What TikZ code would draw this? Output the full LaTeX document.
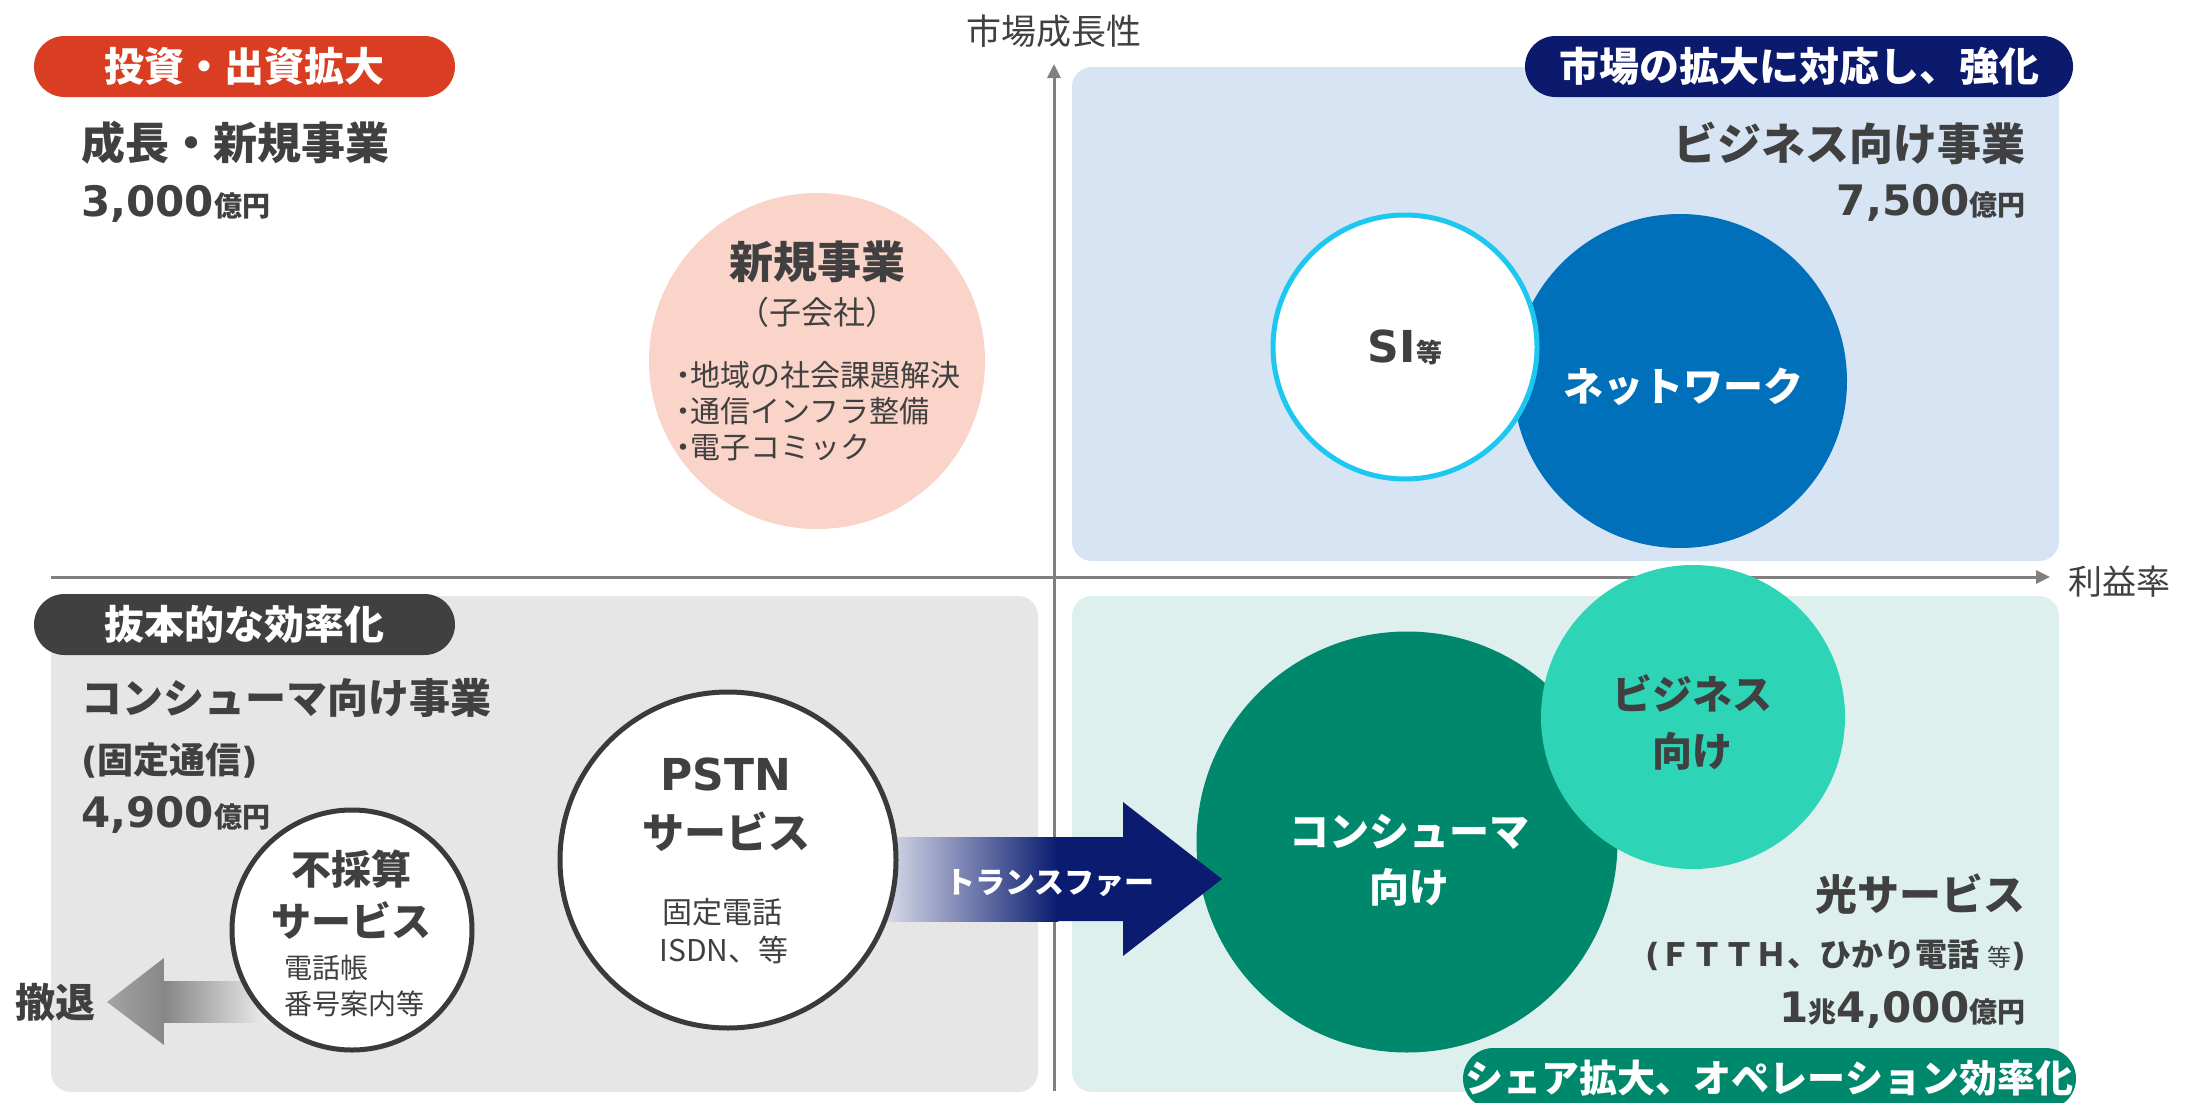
\documentclass[tikz,border=0pt]{standalone}
\usepackage{fontspec}
\setmainfont{Noto Sans CJK JP}
\newfontfamily\latfont{DejaVu Sans}
\usetikzlibrary{arrows.meta}
\definecolor{tg}{HTML}{404040}
\definecolor{axisgray}{HTML}{808080}
\definecolor{boxblue}{HTML}{D6E4F4}
\definecolor{boxgray}{HTML}{E6E6E6}
\definecolor{boxteal}{HTML}{DDF0EE}
\definecolor{pillred}{HTML}{D93D22}
\definecolor{pillnavy}{HTML}{0B1A6C}
\definecolor{pilldark}{HTML}{404040}
\definecolor{green1}{HTML}{00886C}
\definecolor{teal1}{HTML}{2DD4B6}
\definecolor{netblue}{HTML}{0070BA}
\definecolor{sicyan}{HTML}{1CC8F0}
\definecolor{pink1}{HTML}{FAD4C9}
\definecolor{ringgray}{HTML}{3A3A3A}
\definecolor{arrnavy}{HTML}{0A1B70}
\newcommand\setfs[1]{\fontsize{#1}{#1}\selectfont}
\newcommand\bdot{\makebox[13pt]{・}}
\tikzset{
  pill/.style={rounded corners=30.5pt, minimum height=61pt, inner sep=0pt, text=white, font=\bfseries\setfs{40}},
  quad/.style={rounded corners=20pt},
  disc/.style={circle, inner sep=0pt},
  ring/.style={circle, inner sep=0pt, fill=white, draw=ringgray, line width=5pt},
  txt/.style={inner sep=0pt, text=tg},
  axisline/.style={draw=axisgray, line width=3pt, -{Triangle[length=14pt,width=13pt]}}
}
\begin{document}
\begin{tikzpicture}[x=1pt,y=-1pt]
\clip (0,0) rectangle (2188,1103);
\fill[white] (0,0) rectangle (2188,1103);
% quadrant boxes
\fill[boxblue, quad] (1072,67) rectangle (2059,561);
\fill[boxgray, quad] (51,596) rectangle (1038,1092);
\fill[boxteal, quad] (1072,596) rectangle (2059,1092);
% axes
\coordinate (vbot) at (1054,1091);
\coordinate (vtop) at (1054,64);
\coordinate (hleft) at (51,577);
\coordinate (hright) at (2050,577);
\draw[axisline] (vbot) -- (vtop);
\draw[axisline] (hleft) -- (hright);
\node[txt, font=\setfs{35}] (yl) at (1054,31) {市場成長性};
\node[txt, font=\setfs{34}, anchor=west] (xl) at (2068,582) {利益率};
% pills
\node[pill, fill=pillred, minimum width=421pt] (p1) at (244.5,66.5) {投資・出資拡大};
\node[pill, fill=pillnavy, minimum width=548pt] (p2) at (1799,66.5) {市場の拡大に対応し、強化};
\node[pill, fill=pilldark, minimum width=421pt] (p3) at (244.5,624.5) {抜本的な効率化};
\node[pill, fill=green1, minimum width=613pt, font=\bfseries\setfs{38}] (p4) at (1769.5,1078.5) {シェア拡大、オペレーション効率化};
% headings
\node[txt, anchor=west, font=\bfseries\setfs{44}] (h1) at (81,143) {成長・新規事業};
\node[txt, anchor=base west, font=\bfseries] (h1n) at (81,216) {{\latfont\setfs{42}3,000}{\setfs{28}億円}};
\node[txt, anchor=east, font=\bfseries\setfs{44}] (h2) at (2026,143) {ビジネス向け事業};
\node[txt, anchor=base east, font=\bfseries] (h2n) at (2026,215) {{\latfont\setfs{42}7,500}{\setfs{28}億円}};
\node[txt, anchor=west, font=\bfseries\setfs{41}] (h3) at (81,698) {コンシューマ向け事業};
\node[txt, anchor=west, font=\bfseries\setfs{36}] (h3b) at (81,761) {{\latfont (}固定通信{\latfont )}};
\node[txt, anchor=base west, font=\bfseries] (h3n) at (81,827) {{\latfont\setfs{42}4,900}{\setfs{28}億円}};
\node[txt, anchor=east, font=\bfseries\setfs{42}] (h4) at (2026,894) {光サービス};
\node[txt, anchor=east, font=\bfseries\setfs{32}] (h4b) at (2026,955) {{\latfont (}ＦＴＴＨ、ひかり電話 {\mdseries\setfs{24}等}{\latfont )}};
\node[txt, anchor=base east, font=\bfseries] (h4n) at (2026,1022) {{\latfont\setfs{42}1}{\setfs{28}兆}{\latfont\setfs{42}4,000}{\setfs{28}億円}};
% new business circle
\node[disc, fill=pink1, minimum size=336pt] (c1) at (817,361) {};
\node[txt, font=\bfseries\setfs{44}] (c1a) at (817,262) {新規事業};
\node[txt, font=\setfs{32}] (c1b) at (817,312) {（子会社）};
\node[txt, anchor=west, font=\setfs{30}] (c1c) at (677,375) {\bdot 地域の社会課題解決};
\node[txt, anchor=west, font=\setfs{30}] (c1d) at (677,411) {\bdot 通信インフラ整備};
\node[txt, anchor=west, font=\setfs{30}] (c1e) at (677,448) {\bdot 電子コミック};
% business circles
\node[disc, fill=netblue, minimum size=334pt] (net) at (1680,381) {};
\node[disc, fill=white, draw=sicyan, line width=5pt, minimum size=264pt] (si) at (1405,347) {};
\node[txt, font=\bfseries] (sit) at (1405,347) {{\latfont\setfs{44}SI}{\setfs{26}等}};
\node[txt, text=white, font=\bfseries\setfs{40}] (nett) at (1683,387) {ネットワーク};
% optical circles
\node[disc, fill=green1, minimum size=421pt] (cons) at (1407,842) {};
\node[disc, fill=teal1, minimum size=304pt] (biz) at (1693,717) {};
\node[txt, font=\bfseries\setfs{40}] (biza) at (1692,693) {ビジネス};
\node[txt, font=\bfseries\setfs{40}] (bizb) at (1692,751) {向け};
\node[txt, text=white, font=\bfseries\setfs{40}] (consa) at (1409,832) {コンシューマ};
\node[txt, text=white, font=\bfseries\setfs{40}] (consb) at (1409,887) {向け};
% transfer arrow
\shade[left color=white, right color=arrnavy] (853,837) rectangle (1058,921);
\fill[arrnavy] (1057,837) -- (1123,837) -- (1123,802) -- (1222,879) -- (1123,956) -- (1123,921) -- (1057,921) -- cycle;
\node[txt, text=white, font=\bfseries\setfs{30}] (tr) at (1050,883) {トランスファー};
% withdraw arrow
\shade[left color=black!48, right color=boxgray!70!white] (163,981) rectangle (268,1022);
\shade[left color=black!36, right color=black!47] (107,1002) -- (164,958) -- (164,1045) -- cycle;
\node[txt, font=\bfseries\setfs{40}] (wd) at (56,1002) {撤退};
% PSTN circle
\node[ring, minimum size=336pt] (pstn) at (728,860) {};
\node[txt, font=\bfseries] (pa) at (726,774) {\latfont\setfs{44}PSTN};
\node[txt, font=\bfseries\setfs{42}] (pb) at (726,832) {サービス};
\node[txt, font=\setfs{30}] (pc) at (722,912) {固定電話};
\node[txt, font=\setfs{30}] (pd) at (724,950) {ISDN、等};
% unprofitable circle
\node[ring, minimum size=240pt] (unp) at (352,930) {};
\node[txt, font=\bfseries\setfs{40}] (ua) at (351,869) {不採算};
\node[txt, font=\bfseries\setfs{40}] (ub) at (351,920) {サービス};
\node[txt, anchor=west, font=\setfs{28}] (uc) at (284,968) {電話帳};
\node[txt, anchor=west, font=\setfs{28}] (ud) at (284,1004) {番号案内等};
\end{tikzpicture}
\end{document}
